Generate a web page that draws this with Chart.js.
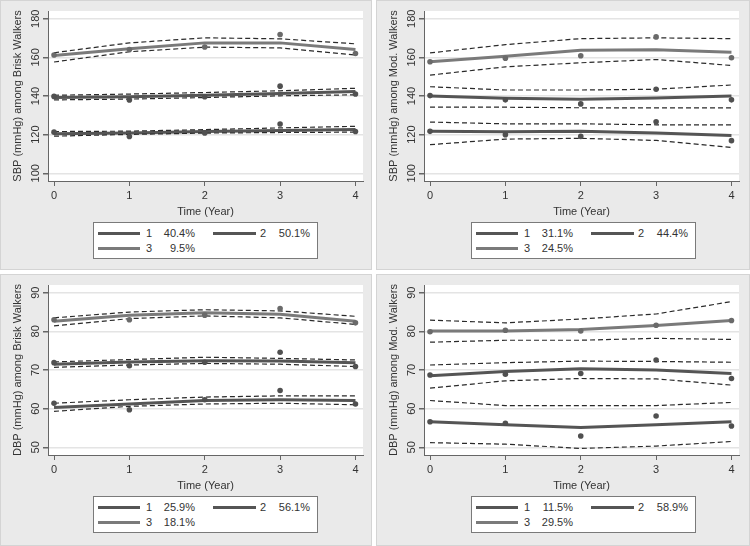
<!DOCTYPE html>
<html>
<head>
<meta charset="utf-8">
<script src="https://cdn.jsdelivr.net/npm/chart.js@4.4.1/dist/chart.umd.min.js"></script>
<style>
  body { margin: 0; background: #fff; font-family: "Liberation Sans", Arial, sans-serif; }
  .panel { position: absolute; background: #eaeaea; border: 1px solid #d4d4d4; box-sizing: border-box; }
  .panel canvas { position: absolute; left: -1px; top: -1px; }
  .legend { position: absolute; background: #fff; border: 1px solid #7a7a7a; box-sizing: border-box;
            font-size: 11px; color: #333; }
  .legend .ln { position: absolute; height: 3px; }
  .legend .num, .legend .pct { position: absolute; line-height: 12px; white-space: nowrap; }
  .legend .pct { width: 41px; text-align: right; }
</style>
</head>
<body>
<div class="panel" id="sbpBrisk" style="left:0;top:0;width:372px;height:270px"></div>
<div class="panel" id="sbpMod" style="left:376px;top:0;width:374px;height:270px"></div>
<div class="panel" id="dbpBrisk" style="left:0;top:274px;width:372px;height:272px"></div>
<div class="panel" id="dbpMod" style="left:376px;top:274px;width:374px;height:272px"></div>
<script>
const years = [0, 1, 2, 3, 4];
const sbpTicks = [100, 120, 140, 160, 180];
const dbpTicks = [50, 60, 70, 80, 90];
const classNames = ['1', '2', '3'];

// SBP, brisk walkers (class 1, 2, 3)
const sbpBriskFit = [[120.4, 120.9, 121.6, 122.1, 122.6], [139.2, 139.6, 140.4, 141.3, 142.3], [161.0, 164.4, 167.5, 167.5, 164.1]];
const sbpBriskUp  = [[121.6, 121.8, 122.6, 123.5, 124.3], [140.4, 141.0, 141.8, 142.7, 144.0], [162.4, 167.5, 170.1, 169.6, 167.0]];
const sbpBriskLo  = [[119.2, 120.1, 120.8, 121.1, 121.3], [138.0, 138.4, 139.2, 140.1, 140.6], [157.6, 162.9, 165.3, 164.9, 161.2]];
const sbpBriskObs = [[121.3, 119.0, 120.9, 125.5, 121.6], [139.8, 137.9, 139.6, 145.1, 141.0], [161.2, 164.1, 165.4, 171.8, 162.0]];
const sbpBriskPct = ['40.4%', '50.1%', '9.5%'];

// SBP, moderate walkers
const sbpModFit = [[121.7, 121.5, 121.7, 120.8, 119.5], [140.0, 138.8, 138.3, 139.0, 140.0], [157.7, 160.6, 163.7, 164.0, 162.7]];
const sbpModUp  = [[126.5, 125.6, 125.6, 125.1, 125.1], [144.8, 143.1, 143.1, 143.5, 145.7], [162.3, 166.6, 169.7, 170.1, 169.7]];
const sbpModLo  = [[114.8, 117.7, 118.1, 117.0, 113.4], [134.2, 134.2, 133.9, 133.9, 133.9], [150.8, 155.1, 157.2, 158.9, 155.8]];
const sbpModObs = [[121.7, 120.0, 119.1, 126.7, 116.9], [140.2, 138.0, 135.9, 143.5, 138.0], [157.7, 159.6, 160.8, 170.6, 159.8]];
const sbpModPct = ['31.1%', '44.4%', '24.5%'];

// DBP, brisk walkers
const dbpBriskFit = [[60.3, 61.2, 62.1, 62.3, 62.1], [71.5, 72.1, 72.4, 72.3, 71.9], [82.6, 84.2, 84.8, 84.4, 82.6]];
const dbpBriskUp  = [[61.4, 62.3, 63.0, 63.3, 63.3], [72.1, 72.7, 73.3, 73.0, 72.6], [83.5, 85.0, 85.6, 85.3, 83.9]];
const dbpBriskLo  = [[59.3, 60.6, 61.2, 61.4, 61.0], [70.7, 71.3, 71.7, 71.5, 70.9], [81.4, 83.3, 84.0, 83.5, 81.8]];
const dbpBriskObs = [[61.4, 59.7, 62.3, 64.7, 61.2], [71.9, 71.1, 72.0, 74.6, 70.9], [83.0, 83.0, 84.2, 85.9, 82.2]];
const dbpBriskPct = ['25.9%', '56.1%', '18.1%'];

// DBP, moderate walkers
const dbpModFit = [[56.6, 55.8, 55.1, 55.8, 56.6], [68.5, 69.6, 70.3, 70.0, 69.1], [80.1, 80.1, 80.5, 81.5, 82.8]];
const dbpModUp  = [[62.1, 60.8, 60.8, 60.8, 61.6], [71.3, 71.9, 72.3, 72.2, 72.0], [82.9, 82.2, 83.2, 84.5, 87.7]];
const dbpModLo  = [[51.2, 50.8, 49.7, 50.3, 51.5], [65.3, 67.2, 67.8, 67.7, 66.1], [77.2, 77.7, 77.7, 78.2, 77.9]];
const dbpModObs = [[56.6, 56.2, 52.9, 58.1, 55.5], [68.7, 68.9, 69.1, 72.6, 67.8], [79.9, 80.3, 80.1, 81.6, 82.8]];
const dbpModPct = ['11.5%', '58.9%', '29.5%'];

const lineColors = ['#555555', '#555555', '#7a7a7a'];
const dotColors = ['#505050', '#505050', '#6a6a6a'];
const FONT = '"Liberation Sans", Arial, sans-serif';

Chart.defaults.font.family = FONT;
Chart.defaults.font.size = 11;
Chart.defaults.color = '#333';

// white plot region, the rest of the panel stays grey
const whitePlot = {
    id: 'whitePlot',
    beforeDraw(chart) {
        const { ctx, chartArea: a } = chart;
        ctx.save();
        ctx.fillStyle = '#fff';
        ctx.fillRect(a.left, a.top, a.right - a.left, a.bottom - a.top);
        ctx.restore();
    }
};

const buildLegend = (panel, pcts, left) => {
    const box = document.createElement('div');
    box.className = 'legend';
    box.style.left = left + 'px';
    box.style.top = '221px';
    box.style.width = '225px';
    box.style.height = '37px';
    const slots = [
        { line: 4, lw: 42, num: 52, pct: 60, top: 10 },
        { line: 119, lw: 43, num: 166, pct: 175, top: 10 },
        { line: 4, lw: 42, num: 52, pct: 60, top: 25 }
    ];
    slots.forEach((s, k) => {
        const ln = document.createElement('div');
        ln.className = 'ln';
        ln.style.left = s.line + 'px';
        ln.style.width = s.lw + 'px';
        ln.style.top = (s.top - 1.5) + 'px';
        ln.style.background = lineColors[k];
        const num = document.createElement('span');
        num.className = 'num';
        num.style.left = s.num + 'px';
        num.style.top = (s.top - 6) + 'px';
        num.textContent = classNames[k];
        const pct = document.createElement('span');
        pct.className = 'pct';
        pct.style.left = s.pct + 'px';
        pct.style.top = (s.top - 6) + 'px';
        pct.textContent = pcts[k];
        box.appendChild(ln);
        box.appendChild(num);
        box.appendChild(pct);
    });
    panel.appendChild(box);
};

const makePanel = (id, yTitle, yMin, yMax, yTicks, fit, up, lo, obs, pcts, tickPad, legendLeft) => {
    const panel = document.getElementById(id);
    const w = panel.offsetWidth;
    const h = panel.offsetHeight;
    const canvas = document.createElement('canvas');
    canvas.width = w;
    canvas.height = h;
    panel.appendChild(canvas);

    const pts = arr => years.map((x, i) => ({ x: x, y: arr[i] }));
    const datasets = [];
    for (let k = 0; k < 3; k++) {
        datasets.push({
            data: pts(obs[k]), showLine: false, pointRadius: 2.8,
            pointBackgroundColor: dotColors[k], pointBorderWidth: 0, order: 0
        });
        [up[k], lo[k]].forEach(a => datasets.push({
            data: pts(a), borderColor: '#2a2a2a', borderWidth: 1.2,
            borderDash: [5, 3], pointRadius: 0, order: 1
        }));
        datasets.push({
            data: pts(fit[k]), borderColor: lineColors[k], borderWidth: 3,
            pointRadius: 0, order: 2
        });
    }

    new Chart(canvas, {
        type: 'line',
        data: { datasets: datasets },
        plugins: [whitePlot],
        options: {
            responsive: false,
            animation: false,
            events: [],
            layout: { padding: { left: 0, top: 11, right: w - 363, bottom: h - 222 } },
            plugins: { legend: { display: false }, tooltip: { enabled: false } },
            scales: {
                x: {
                    type: 'linear', min: -0.08, max: 4.1,
                    afterBuildTicks: s => { s.ticks = years.map(v => ({ value: v })); },
                    afterFit: s => { s.height = 41; },
                    grid: { drawOnChartArea: false, tickLength: 5, tickColor: '#666' },
                    border: { color: '#666' },
                    ticks: { padding: 3, maxRotation: 0, autoSkip: false },
                    title: { display: true, text: 'Time (Year)', padding: { top: 0, bottom: 3 } }
                },
                y: {
                    min: yMin, max: yMax,
                    afterBuildTicks: s => { s.ticks = yTicks.map(v => ({ value: v })); },
                    afterFit: s => { s.width = 48; },
                    grid: { color: '#e4e4e4', lineWidth: 1.5, tickLength: 5, tickColor: '#666' },
                    border: { color: '#666' },
                    ticks: { minRotation: 90, maxRotation: 90, crossAlign: 'center', padding: tickPad, autoSkip: false },
                    title: { display: true, text: yTitle, padding: { top: 11, bottom: 0 } }
                }
            }
        }
    });
    buildLegend(panel, pcts, legendLeft);
};

makePanel('sbpBrisk', 'SBP (mmHg) among Brisk Walkers', 96, 184, sbpTicks,
    sbpBriskFit, sbpBriskUp, sbpBriskLo, sbpBriskObs, sbpBriskPct, -2, 92);
makePanel('sbpMod', 'SBP (mmHg) among Mod. Walkers', 96, 184, sbpTicks,
    sbpModFit, sbpModUp, sbpModLo, sbpModObs, sbpModPct, -2, 94);
makePanel('dbpBrisk', 'DBP (mmHg) among Brisk Walkers', 48, 92, dbpTicks,
    dbpBriskFit, dbpBriskUp, dbpBriskLo, dbpBriskObs, dbpBriskPct, 1, 92);
makePanel('dbpMod', 'DBP (mmHg) among Mod. Walkers', 48, 92, dbpTicks,
    dbpModFit, dbpModUp, dbpModLo, dbpModObs, dbpModPct, 1, 94);
</script>
</body>
</html>
